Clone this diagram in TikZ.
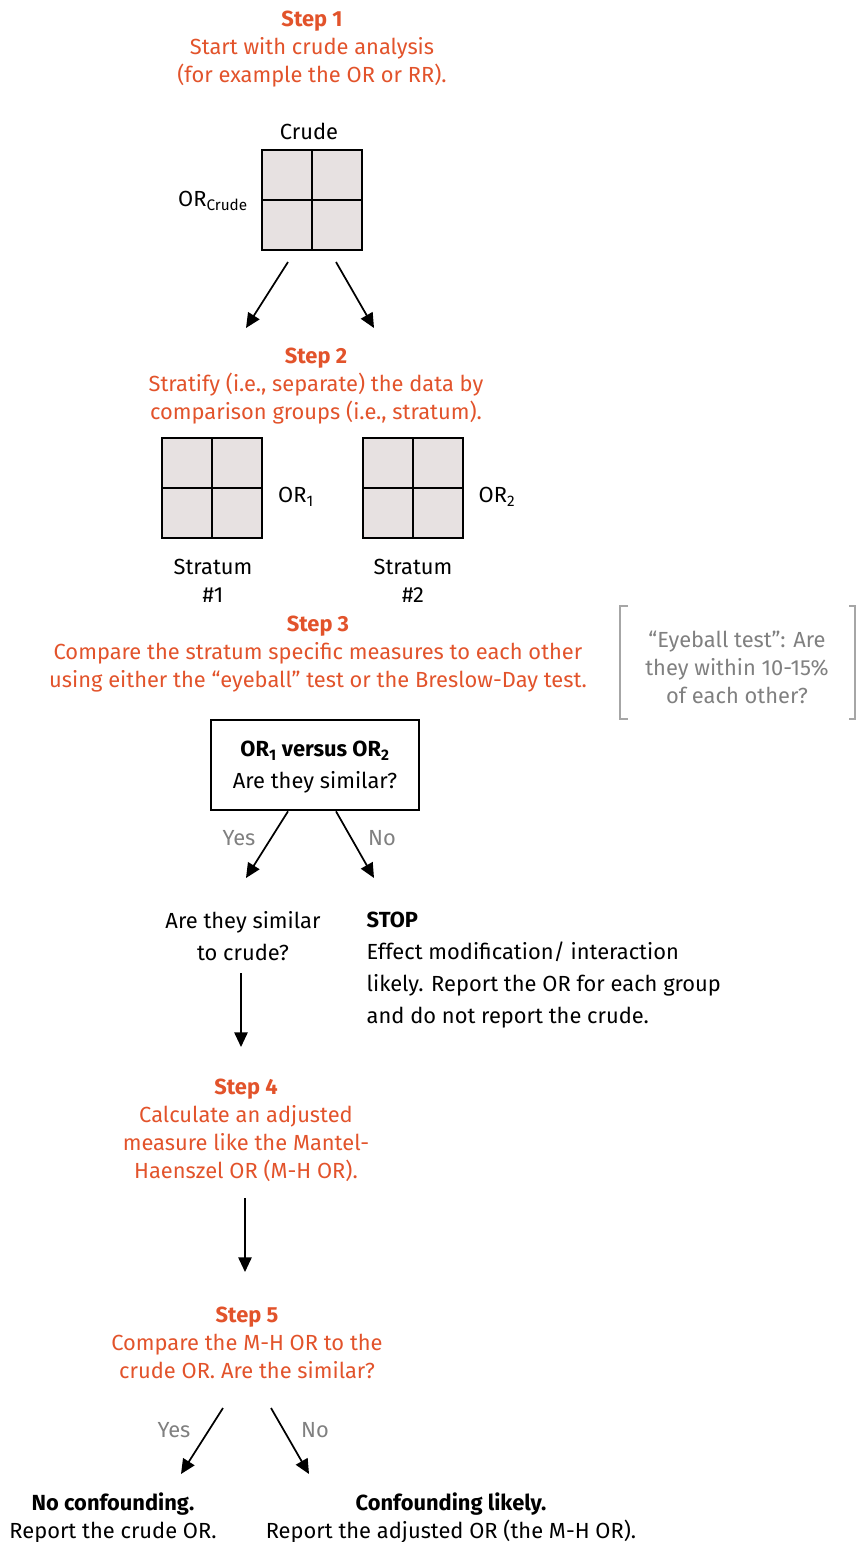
\documentclass[tikz,border=0pt]{standalone}
\usepackage{fontspec}
\setmainfont{Fira Sans}
\usetikzlibrary{arrows.meta}
\definecolor{steporange}{HTML}{E2532B}
\definecolor{notegray}{HTML}{808080}
\definecolor{bracketgray}{HTML}{A6A6A6}
\definecolor{cellgray}{HTML}{E7E1E1}
\tikzset{
  steptext/.style={text=steporange, align=center, font=\fontsize{16.4}{21}\selectfont},
  plaintext/.style={align=center, font=\fontsize{16.4}{21}\selectfont},
  answer/.style={text=notegray, font=\fontsize{16.4}{18}\selectfont},
  table2x2/.style={draw, line width=1.5pt, fill=cellgray, minimum size=75pt, inner sep=0pt},
  arr/.style={-{Triangle[length=11pt,width=10pt]}, line width=1.3pt},
}
\begin{document}
\begin{tikzpicture}[x=0.75pt, y=-0.75pt]
    \useasboundingbox (0,0) rectangle (856,1542);

    % Step 1
    \node[steptext] (step1) at (312,49) {\textbf{Step 1}\\Start with crude analysis\\(for example the OR or RR).};
    \node[plaintext] (crudelbl) at (309,131) {Crude};
    \node[table2x2] (crude) at (312,200) {};
    \draw[line width=1.5pt] (crude.north) -- (crude.south) (crude.west) -- (crude.east);
    \node[plaintext] (orcrude) at (213,201) {OR\textsubscript{Crude}};
    \coordinate (c1a) at (288,262); \coordinate (c1b) at (246,328);
    \coordinate (c2a) at (336,262); \coordinate (c2b) at (374,328);
    \draw[arr] (c1a) -- (c1b);
    \draw[arr] (c2a) -- (c2b);

    % Step 2
    \node[steptext] (step2) at (316,386) {\textbf{Step 2}\\Stratify (i.e., separate) the data by\\comparison groups (i.e., stratum).};
    \node[table2x2] (strat1) at (212,488) {};
    \draw[line width=1.5pt] (strat1.north) -- (strat1.south) (strat1.west) -- (strat1.east);
    \node[table2x2] (strat2) at (413,488) {};
    \draw[line width=1.5pt] (strat2.north) -- (strat2.south) (strat2.west) -- (strat2.east);
    \node[plaintext] (or1) at (296,497) {OR\textsubscript{1}};
    \node[plaintext] (or2) at (497,497) {OR\textsubscript{2}};
    \node[plaintext] (strat1lbl) at (213,581) {Stratum\\\#1};
    \node[plaintext] (strat2lbl) at (413,581) {Stratum\\\#2};

    % Step 3
    \node[steptext] (step3) at (318,654) {\textbf{Step 3}\\Compare the stratum specific measures to each other\\using either the “eyeball” test or the Breslow-Day test.};
    \node[plaintext, text=notegray] (eyeball) at (737,667) {“Eyeball test”: Are\\they within 10-15\%\\of each other?};
    \draw[bracketgray, line width=1.5pt] (628,606) -- (620,606) -- (620,719) -- (628,719);
    \draw[bracketgray, line width=1.5pt] (849,606) -- (855,606) -- (855,719) -- (849,719);
    \node[draw, line width=1.5pt, minimum width=156pt, minimum height=68pt, plaintext, font=\fontsize{16.4}{24}\selectfont, text depth=0pt] (compare) at (315,765)
        {\textbf{OR\textsubscript{1} versus OR\textsubscript{2}}\\Are they similar?};
    \coordinate (y1b) at (246,878); \coordinate (n1b) at (374,878);
    \draw[arr] (compare.south -| 288,0) -- (y1b);
    \draw[arr] (compare.south -| 336,0) -- (n1b);
    \node[answer] (yes1) at (239,838) {Yes};
    \node[answer] (no1) at (382,838) {No};

    \node[plaintext, font=\fontsize{16.4}{24}\selectfont] (tocrude) at (243,936) {Are they similar\\to crude?};
    \node[plaintext, align=left, anchor=west, font=\fontsize{16.4}{24}\selectfont] (stop) at (362,970)
        {\textbf{STOP}\\Effect modification/ interaction\\likely. Report the OR for each group\\and do not report the crude.};
    \coordinate (d1b) at (241,1047);
    \draw[arr] (tocrude.south -| d1b) ++(0,8) -- (d1b);

    % Step 4
    \node[steptext] (step4) at (246,1130) {\textbf{Step 4}\\Calculate an adjusted\\measure like the Mantel-\\Haenszel OR (M-H OR).};
    \coordinate (d2b) at (245,1272);
    \draw[arr] (step4.south -| d2b) ++(0,12) -- (d2b);

    % Step 5
    \node[steptext] (step5) at (247,1343) {\textbf{Step 5}\\Compare the M-H OR to the\\crude OR. Are the similar?};
    \coordinate (y2a) at (223,1408); \coordinate (y2b) at (181,1474);
    \coordinate (n2a) at (271,1408); \coordinate (n2b) at (309,1474);
    \draw[arr] (y2a) -- (y2b);
    \draw[arr] (n2a) -- (n2b);
    \node[answer] (yes2) at (174,1430) {Yes};
    \node[answer] (no2) at (315,1430) {No};

    \node[plaintext] (noconf) at (113,1518) {\textbf{No confounding.}\\Report the crude OR.};
    \node[plaintext] (conf) at (451,1518) {\textbf{Confounding likely.}\\Report the adjusted OR (the M-H OR).};
\end{tikzpicture}
\end{document}
